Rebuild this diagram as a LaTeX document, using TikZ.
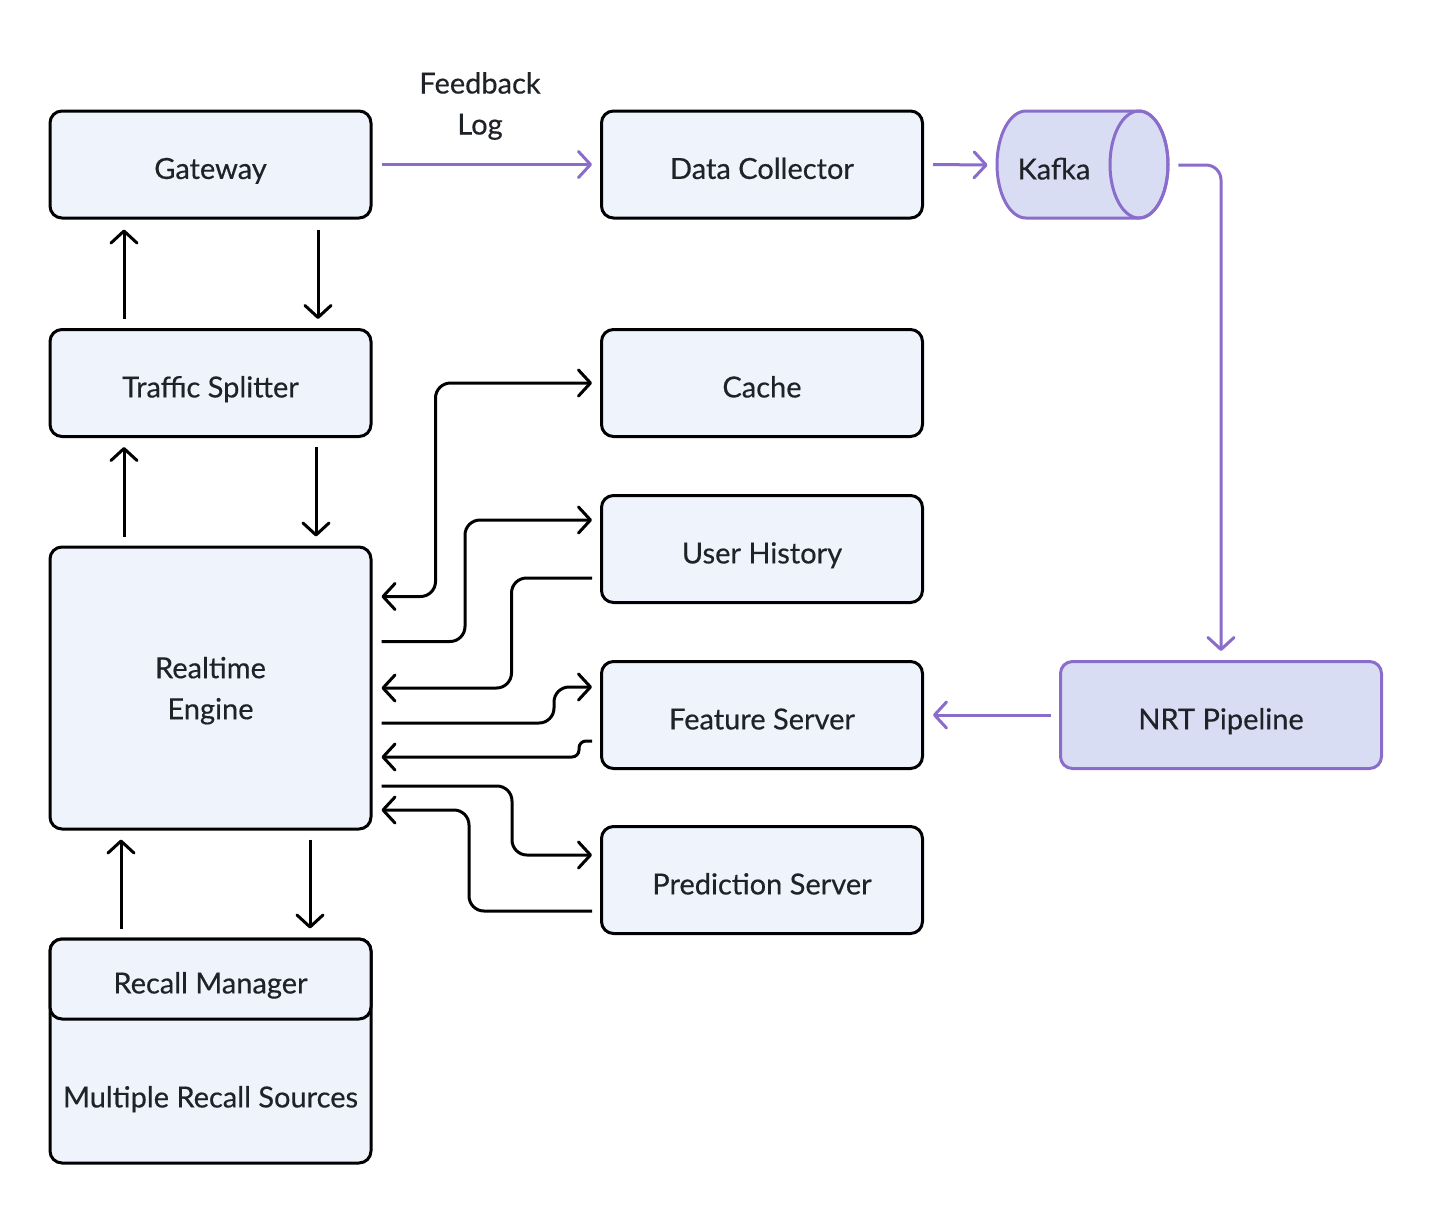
\documentclass[tikz,border=0pt]{standalone}
\usepackage{fontspec}
\setmainfont{Lato}[FakeBold=0.4]
\usetikzlibrary{arrows.meta,calc}
\definecolor{boxfill}{HTML}{EEF3FC}
\definecolor{purp}{HTML}{8A6DCB}
\definecolor{purpfill}{HTML}{D9DDF4}
\definecolor{txt}{HTML}{1F2328}
\begin{document}
\begin{tikzpicture}[x=0.5pt,y=-0.5pt,
  tfont/.style={font=\fontsize{14.5}{20.5}\selectfont, text=txt},
  one/.style={text height=14.4pt, text depth=0pt},
  box/.style={tfont, one, draw=black, line width=1.5pt, fill=boxfill, rounded corners=6pt,
    minimum width=160.5pt, minimum height=53.5pt, align=center, inner sep=0pt},
  pbox/.style={box, draw=purp, fill=purpfill},
  conn/.style={line width=1.5pt, -{Straight Barb[round,length=6pt,width=13pt]}, rounded corners=7.5pt},
  bconn/.style={line width=1.5pt, {Straight Barb[round,length=6pt,width=13pt]}-{Straight Barb[round,length=6pt,width=13pt]}, rounded corners=7.5pt},
  pconn/.style={conn, draw=purp},
  lbl/.style={tfont, align=center}]
\useasboundingbox[fill=white] (0,0) rectangle (1431,1212);

% left column
\node[box] (gw) at (210.5,164.5) {Gateway};
\node[box] (ts) at (210.5,383) {Traffic Splitter};
\node[box, minimum height=141pt, text height={}, text depth=0pt] (re) at (210.5,688) {Realtime\\Engine};
\node[box, minimum height=112pt] (recallbox) at (210.5,1051) {};
\node[box, minimum height=40pt] (recall) at (210.5,979) {Recall Manager};
\node[lbl, one] (sources) at (210.5,1093) {Multiple Recall Sources};

% middle column
\node[box] (dc) at (762,164.5) {Data Collector};
\node[box] (cache) at (762,383) {Cache};
\node[box] (uh) at (762,549) {User History};
\node[box] (fs) at (762,715) {Feature Server};
\node[box] (ps) at (762,880) {Prediction Server};

% right
\node[pbox] (nrt) at (1221,715) {NRT Pipeline};
\filldraw[fill=purpfill, draw=purp, line width=1.5pt]
  (1026,111) -- (1139,111) arc[start angle=90, end angle=-90, x radius=14.5pt, y radius=26.75pt]
  -- (1026,218) arc[start angle=270, end angle=90, x radius=14.5pt, y radius=26.75pt] -- cycle;
\draw[draw=purp, line width=1.5pt] (1139,164.5) ellipse[x radius=14.5pt, y radius=26.75pt];
\node[tfont, one, minimum width=57pt, minimum height=53.5pt, inner sep=0pt] (kafka) at (1054,165) {Kafka};

% label
\node[lbl] (fb) at (480,106) {Feedback\\Log};

% vertical arrows
\draw[conn] ($(ts.north)+(-86.5,-9)$) -- ($(gw.south)+(-86.5,10)$);
\draw[conn] ($(gw.south)+(107.5,10)$) -- ($(ts.north)+(107.5,-9)$);
\draw[conn] ($(re.north)+(-86.5,-9)$) -- ($(ts.south)+(-86.5,9)$);
\draw[conn] ($(ts.south)+(105.5,9)$) -- ($(re.north)+(105.5,-9)$);
\draw[conn] ($(recall.north)+(-89.5,-9)$) -- ($(re.south)+(-89.5,9)$);
\draw[conn] ($(re.south)+(99.5,9)$) -- ($(recall.north)+(99.5,-9)$);

% realtime engine <-> services
\draw[bconn] ($(cache.west)+(-8,0)$) -| ($(re.north east)+(63,51)$) -- ($(re.north east)+(9,51)$);
\draw[conn] ($(re.north east)+(9,96)$) -| ($(uh.west)+(-135,-29)$) -- ($(uh.west)+(-8,-29)$);
\draw[conn] ($(uh.west)+(-8,29)$) -| ($(re.east)+(139,0)$) -- ($(re.east)+(9,0)$);
\draw[conn] ($(re.east)+(9,35)$) -| ($(fs.west)+(-46,-28)$) -- ($(fs.west)+(-8,-28)$);
\draw[conn, rounded corners=3.5pt] ($(fs.west)+(-8,26)$) -| ($(fs.west)+(-21,42)$) -- ($(re.east)+(9,69)$);
\draw[conn] ($(re.east)+(9,98)$) -| ($(ps.west)+(-88,-25)$) -- ($(ps.west)+(-8,-25)$);
\draw[conn] ($(ps.west)+(-8,31)$) -| ($(ps.west)+(-131,-70)$) -- ($(re.east)+(9,122)$);

% purple flow
\draw[pconn] ($(gw.east)+(9,0)$) -- ($(dc.west)+(-8,0)$);
\draw[pconn] ($(dc.east)+(9,0)$) -- ($(kafka.west)+(-9,0)$);
\draw[pconn] ($(kafka.east)+(67,0)$) -| ($(nrt.north)+(0,-9)$);
\draw[pconn] ($(nrt.west)+(-8,0)$) -- ($(fs.east)+(9,0)$);
\end{tikzpicture}
\end{document}
